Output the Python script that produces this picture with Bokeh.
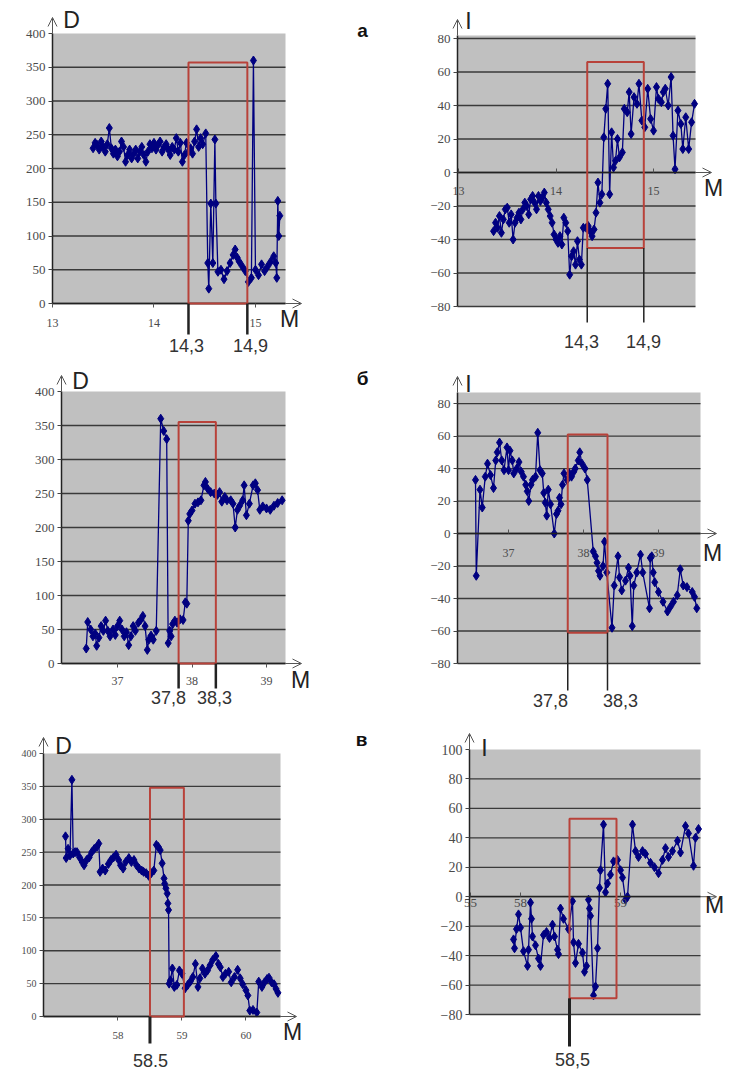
from bokeh.plotting import figure
from bokeh.layouts import column, row
from bokeh.models import FixedTicker, BoxAnnotation, Label, Arrow, OpenHead, LinearAxis, Range1d
from bokeh.embed import file_html
from bokeh.resources import INLINE

# ---------------- data ----------------
a_D_x = [13.40,13.42,13.44,13.46,13.48,13.50,13.52,13.54,13.56,13.58,13.60,13.62,13.64,13.66,13.68,13.70,13.72,13.74,13.76,13.78,
         13.80,13.82,13.84,13.86,13.88,13.90,13.92,13.94,13.96,13.98,14.00,14.02,14.04,14.06,14.08,14.10,14.12,14.14,14.16,14.18,
         14.20,14.22,14.24,14.26,14.28,14.30,14.32,14.34,14.36,14.38,14.40,14.42,14.44,14.46,14.48,14.51,14.53,14.54,14.56,14.58,
         14.60,14.61,14.63,14.66,14.69,14.72,14.75,14.78,14.80,14.82,14.84,14.87,14.90,14.93,14.96,14.98,15.00,15.03,15.06,15.09,
         15.12,15.15,15.18,15.20,15.21,15.22,15.23,15.24]
a_D_y = [230,238,235,228,240,232,225,236,260,230,222,228,218,225,240,232,210,220,228,215,
         222,228,215,225,232,220,210,225,236,230,238,228,235,240,225,232,236,228,220,232,
         228,245,225,238,210,220,238,225,230,222,240,258,232,245,236,252,60,22,148,60,
         243,148,47,50,36,48,60,72,80,68,62,55,48,32,38,360,50,42,58,48,
         55,62,70,60,38,152,100,130]

a_I_x = [13.36,13.38,13.40,13.42,13.44,13.46,13.48,13.50,13.52,13.54,13.56,13.58,13.60,13.62,13.64,13.66,13.68,13.70,13.72,13.74,
         13.76,13.78,13.80,13.82,13.84,13.86,13.88,13.90,13.92,13.94,13.96,13.98,14.00,14.02,14.04,14.06,14.08,14.10,14.12,14.14,
         14.16,14.18,14.20,14.22,14.24,14.26,14.28,14.31,14.33,14.35,14.37,14.39,14.41,14.43,14.45,14.47,14.49,14.51,14.53,14.55,
         14.57,14.59,14.61,14.63,14.65,14.68,14.70,14.73,14.75,14.77,14.80,14.83,14.85,14.88,14.91,14.94,14.97,15.00,15.03,15.05,
         15.08,15.10,15.12,15.15,15.18,15.20,15.22,15.25,15.28,15.30,15.33,15.36,15.39,15.42]
a_I_y = [-35,-30,-33,-26,-36,-28,-22,-21,-30,-25,-40,-30,-27,-24,-28,-22,-18,-20,-25,-16,
         -14,-18,-22,-14,-17,-15,-12,-18,-22,-26,-30,-37,-40,-42,-38,-43,-27,-30,-35,-61,
         -50,-47,-55,-41,-52,-55,-33,-33,-32,-35,-38,-34,-24,-6,-18,-13,21,38,53,-13,
         24,3,7,20,9,12,38,36,48,23,45,41,53,31,27,50,32,25,51,44,
         42,48,50,40,57,22,2,37,29,14,33,14,30,41]

b_D_x = [36.58,36.60,36.64,36.67,36.70,36.72,36.75,36.78,36.81,36.84,36.87,36.90,36.94,36.97,37.00,37.03,37.06,37.09,37.12,37.15,
         37.18,37.21,37.24,37.28,37.31,37.34,37.37,37.40,37.42,37.45,37.48,37.52,37.58,37.62,37.66,37.68,37.70,37.72,37.74,37.77,
         37.80,37.84,37.88,37.91,37.93,37.95,37.97,38.00,38.04,38.08,38.12,38.16,38.18,38.21,38.25,38.30,38.34,38.37,38.40,38.44,
         38.47,38.52,38.55,38.58,38.61,38.64,38.68,38.70,38.73,38.77,38.82,38.85,38.88,38.91,38.95,39.00,39.05,39.10,39.15,39.21]
b_D_y = [22,61,50,40,44,26,38,55,48,63,48,40,50,42,55,63,50,40,46,27,
         40,55,48,60,64,70,55,20,35,41,35,48,360,342,330,30,48,40,58,63,
         60,65,64,90,88,210,220,225,235,237,240,262,267,257,252,250,248,252,238,245,
         240,240,235,200,226,232,240,262,218,235,262,265,255,226,231,228,226,232,236,240]

b_I_x = [36.56,36.57,36.62,36.65,36.69,36.72,36.76,36.80,36.83,36.85,36.88,36.91,36.94,36.98,37.00,37.02,37.05,37.07,37.11,37.14,
         37.17,37.20,37.23,37.25,37.27,37.30,37.32,37.36,37.39,37.42,37.45,37.47,37.49,37.51,37.53,37.56,37.61,37.64,37.66,37.68,
         37.70,37.72,37.74,37.78,37.81,37.84,37.87,37.89,37.93,37.95,37.98,38.02,38.05,38.13,38.16,38.18,38.20,38.22,38.26,38.28,
         38.31,38.38,38.41,38.46,38.48,38.51,38.56,38.60,38.62,38.65,38.67,38.71,38.76,38.79,38.88,38.89,38.91,38.93,38.95,39.00,
         39.06,39.12,39.16,39.20,39.25,39.29,39.33,39.38,39.45,39.48,39.51]
b_I_y = [33,-26,27,16,35,43,36,28,45,50,56,45,39,53,39,51,45,37,40,44,
         38,35,30,26,20,30,33,35,62,39,37,25,19,11,27,18,0,12,14,22,
         18,30,37,33,37,35,38,40,45,50,43,40,33,-11,-14,-18,-23,-26,-20,-5,
         -24,-58,-32,-14,-27,-35,-29,-21,-26,-57,-32,-24,-13,-24,-46,-15,-14,-24,-30,-36,
         -42,-48,-45,-42,-38,-22,-32,-33,-36,-39,-46]

v_D_x = [57.18,57.19,57.22,57.25,57.28,57.30,57.33,57.36,57.40,57.44,57.47,57.51,57.55,57.59,57.63,57.67,57.70,57.72,57.76,57.80,
         57.85,57.89,57.93,57.97,58.01,58.04,58.08,58.12,58.17,58.21,58.25,58.29,58.33,58.37,58.40,58.44,58.48,58.52,58.56,58.60,
         58.63,58.66,58.69,58.72,58.73,58.75,58.77,58.78,58.79,58.80,58.82,58.85,58.88,58.92,58.96,59.00,59.05,59.09,59.13,59.17,
         59.21,59.25,59.28,59.32,59.36,59.40,59.44,59.48,59.53,59.57,59.60,59.64,59.68,59.73,59.77,59.82,59.87,59.91,59.95,60.00,
         60.03,60.06,60.11,60.17,60.20,60.25,60.29,60.33,60.36,60.40,60.44,60.47,60.50]
v_D_y = [274,241,255,245,360,248,250,250,242,235,230,238,242,250,255,258,263,220,225,222,
         232,238,242,246,238,230,225,235,241,235,238,230,225,222,220,218,214,218,222,261,
         258,253,233,210,202,195,187,172,162,50,55,73,45,48,70,65,43,48,53,60,
         80,45,58,73,65,70,78,86,92,80,75,60,65,68,52,60,71,58,49,40,
         32,9,10,6,53,45,52,57,59,52,49,42,36]

v_I_x = [57.93,57.94,57.96,57.98,58.00,58.03,58.07,58.08,58.10,58.11,58.12,58.15,58.18,58.20,58.23,58.26,58.29,58.32,58.34,58.37,
         58.38,58.40,58.43,58.48,58.52,58.53,58.55,58.58,58.62,58.64,58.66,58.68,58.69,58.70,58.73,58.75,58.77,58.79,58.80,58.83,
         58.85,58.87,58.90,58.93,58.97,59.00,59.02,59.05,59.07,59.12,59.15,59.18,59.22,59.25,59.30,59.34,59.38,59.42,59.45,59.48,
         59.52,59.57,59.60,59.65,59.68,59.73,59.75,59.78]
v_I_y = [-29,-35,-22,-12,-21,-37,-47,-36,-4,-15,-27,-33,-42,-47,-26,-24,-28,-19,-27,-36,
         -39,-8,-15,-22,-3,-31,-45,-32,-38,-51,-47,-2,-8,-13,-67,-61,-35,6,18,49,
         3,9,15,24,25,18,13,-2,0,49,31,27,31,29,23,20,16,25,33,27,
         31,38,30,48,43,21,40,46]

d_ticks = [0, 50, 100, 150, 200, 250, 300, 350, 400]
i_ticks = [-80, -60, -40, -20, 0, 20, 40, 60, 80]
i_ticks_v = [-80, -60, -40, -20, 0, 20, 40, 60, 80, 100]
a_xticks = [13, 14, 15]
b_xticks = [37, 38, 39]
v_D_xticks = [58, 59, 60]
v_I_xticks = [57.5, 58, 59]
v_I_xlabels = ["55", "58", "59"]

# highlighted intervals (x from, x to, y bottom, y top)
a_D_box = [14.34, 14.92, 0, 357]
a_I_box = [14.32, 14.90, -45, 66]
b_D_box = [37.82, 38.32, 0, 355]
b_I_box = [37.79, 38.32, -61, 61]
v_D_box = [58.50, 59.03, 0, 348]
v_I_box = [58.49, 58.96, -69, 53]
a_marks = ["14,3", "14,9"]
b_marks = ["37,8", "38,3"]
v_D_marks = ["58.5"]
v_I_marks = ["58,5"]
titles = ["а", "б", "в"]

# ---------------- styling ----------------
NAVY = "#000080"
RED = "#b8423a"
GREY_BG = "#c0c0c0"
TICK_FONT = "Liberation Serif"
SANS = "Liberation Sans"


class Pan:
    """A figure whose frame fills it; the chart area (grey) is drawn inside."""
    def __init__(self, ox, oy, w, h, fl, fr, ft, fb, xr, yr):
        self.fl, self.fr, self.ft, self.fb = fl, fr, ft, fb
        self.xr, self.yr = xr, yr
        self.p = figure(width=w, height=h,
                        x_range=Range1d(self.X(ox), self.X(ox + w)),
                        y_range=Range1d(self.Y(oy + h), self.Y(oy)),
                        min_border=0, x_axis_location=None, y_axis_location=None,
                        output_backend="svg", toolbar_location=None)

    def X(self, px):
        return self.xr[0] + (px - self.fl) / (self.fr - self.fl) * (self.xr[1] - self.xr[0])

    def Y(self, py):
        return self.yr[0] + (self.fb - py) / (self.fb - self.ft) * (self.yr[1] - self.yr[0])


def setup(pan, xs, ys, yticks, xticks, standoff, box, zero_axis, ysize="13px",
          xsize="12px", xlabels=None):
    p = pan.p
    x0, x1 = pan.xr
    y0, y1 = pan.yr
    p.background_fill_color = "white"
    p.border_fill_color = "white"
    p.outline_line_color = None
    p.grid.visible = False
    # chart area
    p.quad(left=[x0], right=[x1], bottom=[y0], top=[y1], fill_color=GREY_BG, line_color=None)
    # horizontal grid lines at the value ticks
    gt = [t for t in yticks if t < y1]
    p.segment(x0=[x0] * len(gt), x1=[x1] * len(gt), y0=gt, y1=gt,
              line_color="#3a3a3a", line_width=1.3)
    # series
    p.line(xs, ys, line_color=NAVY, line_width=1.3)
    p.scatter(xs, ys, marker="diamond", size=9, color=NAVY)
    # value axis
    yax = LinearAxis(ticker=FixedTicker(ticks=yticks), fixed_location=x0, bounds=(y0, y1))
    yax.axis_line_color = "#222222"
    yax.axis_line_width = 1.5
    yax.major_tick_out = 4
    yax.major_tick_in = 0
    yax.major_tick_line_color = "#444444"
    yax.minor_tick_line_color = None
    yax.major_label_standoff = 3
    yax.major_label_text_font = TICK_FONT
    yax.major_label_text_font_size = ysize
    yax.major_label_text_color = "#4a4a4a"
    p.add_layout(yax, "left")
    # category axis (crosses at 0)
    xax = LinearAxis(ticker=FixedTicker(ticks=xticks), fixed_location=0, bounds=(x0, x1))
    if xlabels is not None:
        xax.major_label_overrides = {t: l for t, l in zip(xticks, xlabels)}
    xax.axis_line_color = "#222222"
    xax.axis_line_width = 1.3
    xax.minor_tick_line_color = None
    xax.major_tick_line_color = "#555555"
    xax.major_label_text_font = TICK_FONT
    xax.major_label_text_font_size = xsize
    xax.major_label_text_color = "#4a4a4a"
    xax.major_label_standoff = standoff
    if zero_axis:
        xax.major_tick_in = 4
        xax.major_tick_out = 0
    else:
        xax.major_tick_in = 0
        xax.major_tick_out = 4
    p.add_layout(xax, "below")
    # highlighted interval
    p.add_layout(BoxAnnotation(left=box[0], right=box[1], bottom=box[2], top=box[3],
                               fill_color=None, fill_alpha=0, line_color=RED,
                               line_alpha=1, line_width=2))
    # axis arrows
    p.add_layout(Arrow(end=OpenHead(size=9, line_width=1, line_color="#555555"),
                       x_start=x0, y_start=y1, x_end=x0, y_end=pan.Y(pan.ft - 16),
                       line_color="#555555", line_width=1))
    p.add_layout(Arrow(end=OpenHead(size=9, line_width=1, line_color="#555555"),
                       x_start=x1, y_start=0, x_end=pan.X(pan.fr + 16), y_end=0,
                       line_color="#555555", line_width=1))


def text(pan, px, py, s, size, bold=False, color="#222222", font=SANS):
    pan.p.add_layout(Label(x=pan.X(px), y=pan.Y(py), text=s, text_align="center",
                           text_baseline="middle", text_font=font,
                           text_font_size=size, text_color=color,
                           text_font_style="bold" if bold else "normal"))


def vline(pan, xval, y_from, py_to, width, color="#222222"):
    pan.p.add_layout(Arrow(end=None, x_start=xval, y_start=y_from,
                           x_end=xval, y_end=pan.Y(py_to),
                           line_color=color, line_width=width))


# ---------------- panels (page pixel positions) ----------------
# а, D
P1 = Pan(0, 0, 390, 362, 52, 285, 33, 303, (13.0, 15.296), (0, 400))
setup(P1, a_D_x, a_D_y, d_ticks, a_xticks, 11, a_D_box, False)
text(P1, 71, 19, "D", "23px")
text(P1, 289, 318, "M", "23px")
text(P1, 362, 30, titles[0], "19px", bold=True, color="#111111")
for xv, lab, lx in zip(a_D_box[:2], a_marks, [186, 250]):
    vline(P1, xv, 0, 334, 2.5)
    text(P1, lx, 345, lab, "18px", color="#333333")

# а, I
P2 = Pan(390, 0, 339, 362, 457, 695, 35, 306, (12.99, 15.43), (-80, 81.8))
setup(P2, a_I_x, a_I_y, i_ticks, a_xticks, 14, a_I_box, True)
text(P2, 468, 20, "I", "23px")
text(P2, 713, 187, "M", "23px")
for xv, lab, lx in zip(a_I_box[:2], a_marks, [581, 643]):
    vline(P2, xv, a_I_box[2], 322, 1.5)
    text(P2, lx, 341, lab, "18px", color="#333333")

# б, D
P3 = Pan(0, 362, 390, 352, 61, 285, 391, 663, (36.248, 39.255), (0, 400))
setup(P3, b_D_x, b_D_y, d_ticks, b_xticks, 9, b_D_box, False)
text(P3, 80, 380, "D", "23px")
text(P3, 300, 679, "M", "23px")
text(P3, 362, 378, titles[1], "19px", bold=True, color="#111111")
for xv, lab, lx in zip(b_D_box[:2], b_marks, [168, 214]):
    vline(P3, xv, 0, 688, 2.5)
    text(P3, lx, 697, lab, "18px", color="#333333")

# б, I
P4 = Pan(390, 362, 339, 352, 457, 700, 392, 663, (36.32, 39.56), (-80, 86.8))
setup(P4, b_I_x, b_I_y, i_ticks, b_xticks, 15, b_I_box, True)
text(P4, 468, 383, "I", "23px")
text(P4, 712, 552, "M", "23px")
for xv, lab, lx in zip(b_I_box[:2], b_marks, [550, 620]):
    vline(P4, xv, b_I_box[2], 690, 1.5)
    text(P4, lx, 700, lab, "18px", color="#333333")

# в, D
P5 = Pan(0, 714, 390, 356, 43, 280, 753, 1016, (56.836, 60.54), (0, 400))
setup(P5, v_D_x, v_D_y, d_ticks, v_D_xticks, 11, v_D_box, False, ysize="10px", xsize="11px")
text(P5, 63, 745, "D", "23px")
text(P5, 292, 1031, "M", "23px")
text(P5, 361, 739, titles[2], "19px", bold=True, color="#111111")
vline(P5, v_D_box[0], 0, 1043, 3)
text(P5, 150, 1060, v_D_marks[0], "18px", color="#333333")

# в, I
P6 = Pan(390, 714, 339, 356, 469, 700, 749, 1014, (57.49, 59.8), (-80, 100))
setup(P6, v_I_x, v_I_y, i_ticks_v, v_I_xticks, 2, v_I_box, True, ysize="14px",
      xsize="13px", xlabels=v_I_xlabels)
text(P6, 484, 747, "I", "23px")
text(P6, 714, 904, "M", "23px")
vline(P6, v_I_box[0], v_I_box[2], 1046, 3)
text(P6, 572, 1059, v_I_marks[0], "18px", color="#333333")

layout = column(row(P1.p, P2.p), row(P3.p, P4.p), row(P5.p, P6.p))
open("out.html", "w").write(file_html(layout, INLINE))
